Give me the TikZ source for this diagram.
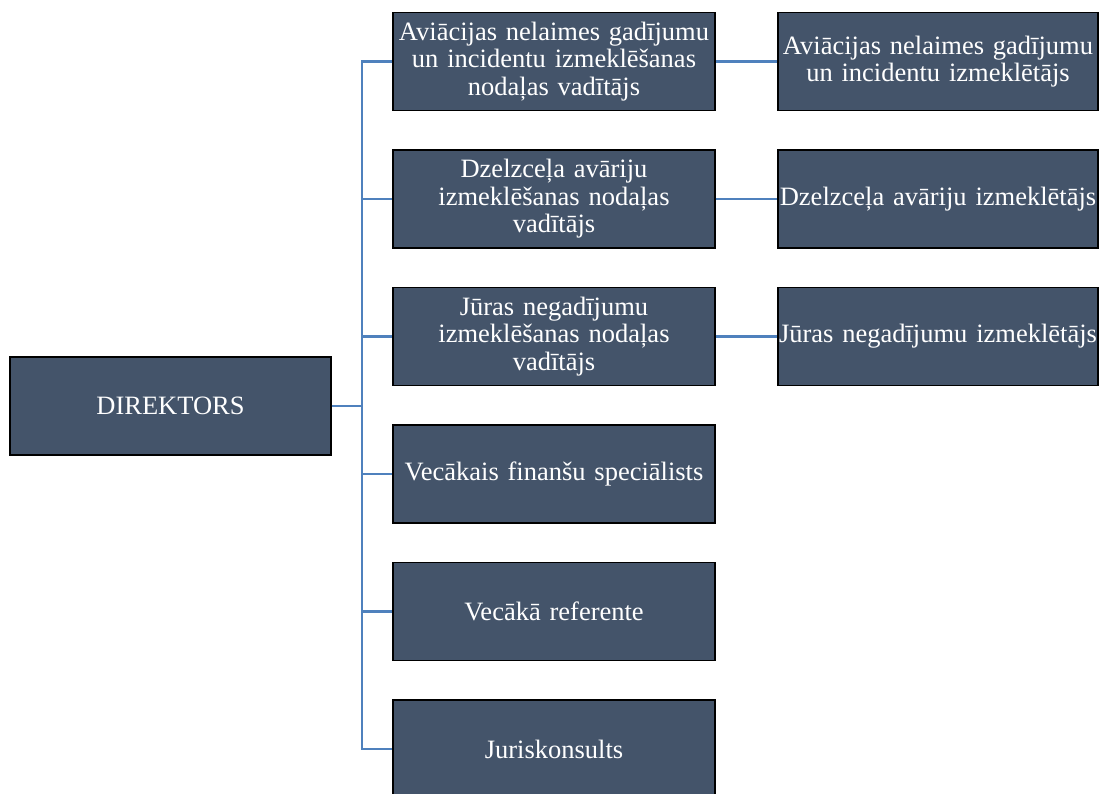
\documentclass[tikz,border=0pt]{standalone}
\usepackage{fontspec}
\setmainfont{Liberation Serif}
\usepackage{tikz}
\usetikzlibrary{arrows,shapes}
\definecolor{boxfill}{HTML}{44546A}
\definecolor{linkblue}{HTML}{4F81BD}
\tikzstyle{unit}=[draw=black,line width=1.1pt,fill=boxfill,text=white,inner sep=0pt,
  minimum height=98pt,align=center,font=\fontsize{26.5}{27.5}\selectfont]
\tikzstyle{mid}=[unit,minimum width=322pt,text width=322pt]
\tikzstyle{side}=[unit,minimum width=320pt,text width=320pt]
\tikzstyle{link} = [draw=linkblue,line width=2.2pt,-]

\begin{document}
\begin{tikzpicture}[x=1pt,y=-1pt]
    \useasboundingbox (0,0) rectangle (1102,794);
    \clip (0,0) rectangle (1102,794);
    % The director on the left
    \node[unit,minimum width=321pt,text width=321pt] (dir) at (170.5,406) {DIREKTORS};
    \coordinate (bus) at (362,406);
    % Middle column, one row each
    \foreach \pos/\name/\txt in {{(554,61.5)/m1/{Aviācijas nelaimes gadījumu\\un incidentu izmeklēšanas\\nodaļas vadītājs}},
        {(554,199)/m2/{Dzelzceļa avāriju\\izmeklēšanas nodaļas\\vadītājs}},
        {(554,336.5)/m3/{Jūras negadījumu\\izmeklēšanas nodaļas\\vadītājs}},
        {(554,474)/m4/{Vecākais finanšu speciālists}},
        {(554,611.5)/m5/{Vecākā referente}},
        {(554,749)/m6/{Juriskonsults}}}
        \node[mid] (\name) at \pos {\txt};
    % Investigators on the right
    \foreach \pos/\name/\txt in {{(938,61.5)/r1/{Aviācijas nelaimes gadījumu\\un incidentu izmeklētājs}},
        {(938,199)/r2/{Dzelzceļa avāriju izmeklētājs}},
        {(938,336.5)/r3/{Jūras negadījumu izmeklētājs}}}
        \node[side] (\name) at \pos {\txt};
    % Connect the boxes
    \path[link] (dir.east) -- (bus);
    \path[link] (m1.west) -- (m1.west -| bus) -- (m6.west -| bus) -- (m6.west);
    \foreach \dest in {m2,m3,m4,m5}
        \path[link] (\dest.west -| bus) -- (\dest.west);
    \foreach \source/\dest in {m1/r1, m2/r2, m3/r3}
        \path[link] (\source) -- (\dest);
\end{tikzpicture}
\end{document}
